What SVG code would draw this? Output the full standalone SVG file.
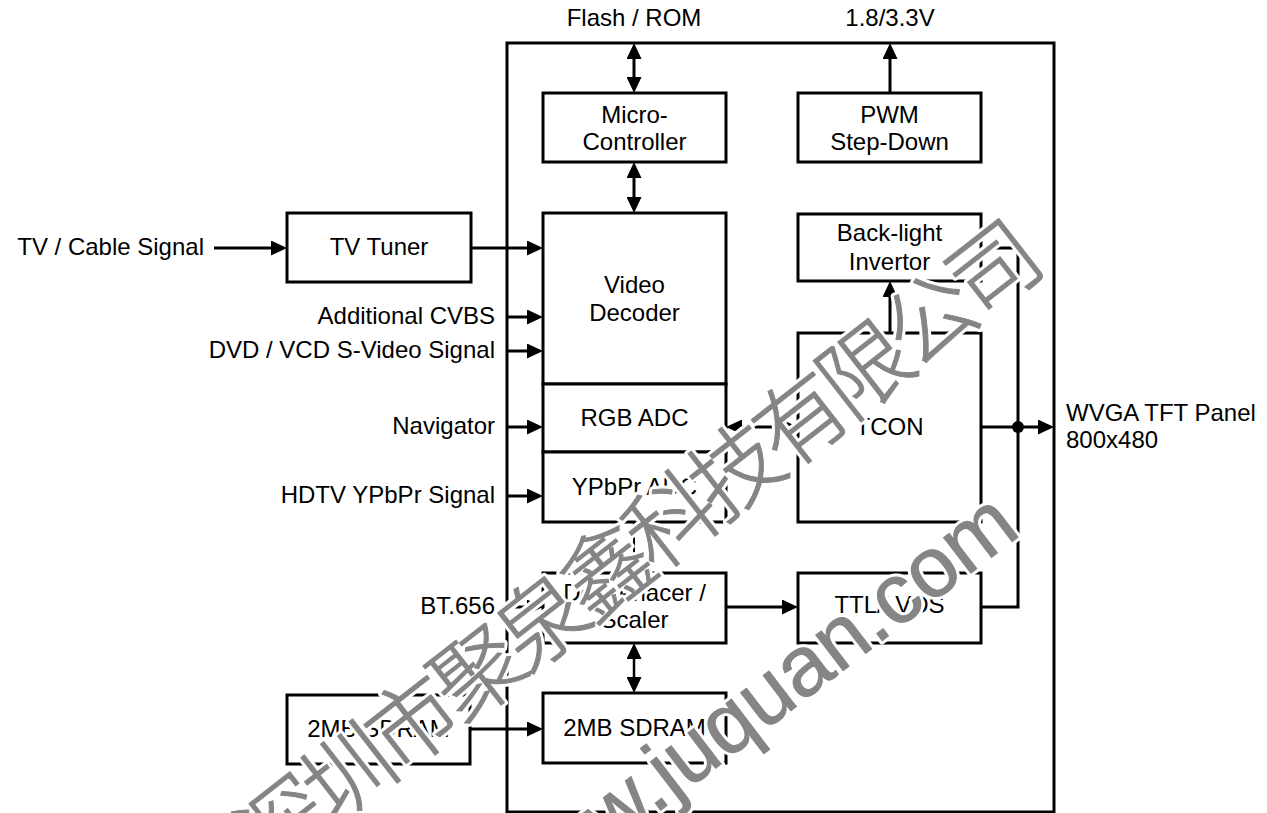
<svg xmlns="http://www.w3.org/2000/svg" width="1267" height="813" viewBox="0 0 1267 813">
<style>
  .box { fill: #fff; stroke: #000; stroke-width: 3; }
  .frame { fill: none; stroke: #000; stroke-width: 3; }
  .t { font-family: "Liberation Sans", Arial, sans-serif; font-size: 24px; fill: #000; }
  .c { text-anchor: middle; }
  .e { text-anchor: end; }
  .ln { fill: none; stroke: #000; stroke-width: 3; }
  .a1 { marker-end: url(#ah); }
  .a2 { marker-start: url(#ah); marker-end: url(#ah); }
  .wmh { fill: #fff; stroke: #fff; stroke-width: 7; stroke-linejoin: round; }
  .wm { fill: #858585; stroke: #858585; stroke-width: 1; stroke-linejoin: round; }
  .cjk { font-family: "Noto Sans CJK SC", "Noto Sans CJK JP", sans-serif; font-size: 90px; font-weight: 300; letter-spacing: -8px; text-anchor: middle; }
  .url { font-family: "Liberation Sans", Arial, sans-serif; font-size: 85px; }
</style>
<defs>
  <marker id="ah" markerUnits="userSpaceOnUse" markerWidth="16" markerHeight="15" refX="8" refY="7.5" orient="auto-start-reverse" viewBox="0 0 16 15">
    <path d="M0,0 L16,7.5 L0,15 z" fill="#000"/>
  </marker>
  <marker id="ahs" markerUnits="userSpaceOnUse" markerWidth="14" markerHeight="13" refX="7" refY="6.5" orient="auto-start-reverse" viewBox="0 0 14 13">
    <path d="M0,0 L14,6.5 L0,13 z" fill="#000"/>
  </marker>
</defs>
<rect width="1267" height="813" fill="#fff"/>

<g id="chip">
  <rect class="frame" x="507" y="43" width="547" height="769"/>
</g>

<g id="connectors">
  <line class="ln a2" x1="634" y1="51" x2="634" y2="85"/>
  <line class="ln a2" x1="634" y1="170" x2="634" y2="205"/>
  <line class="ln a1" x1="890" y1="93" x2="890" y2="51"/>
  <line class="ln a1" x1="214" y1="248" x2="279" y2="248"/>
  <line class="ln a1" x1="471" y1="248" x2="535" y2="248"/>
  <line class="ln a1" x1="507" y1="317" x2="535" y2="317"/>
  <line class="ln a1" x1="507" y1="351" x2="535" y2="351"/>
  <line class="ln a1" x1="507" y1="427" x2="535" y2="427"/>
  <line class="ln a1" x1="507" y1="496" x2="535" y2="496"/>
  <line class="ln a1" x1="507" y1="607" x2="535" y2="607"/>
  <line class="ln" style="stroke-width:2;marker-end:url(#ahs)" x1="634" y1="522" x2="634" y2="566"/>
  <line class="ln a2" style="stroke-width:2.5" x1="634" y1="651" x2="634" y2="685"/>
  <line class="ln a1" x1="470" y1="729" x2="535" y2="729"/>
  <line class="ln a1" x1="726" y1="607" x2="790" y2="607"/>
  <line class="ln a2" x1="734" y1="427" x2="790" y2="427"/>
  <line class="ln a1" x1="890" y1="333" x2="890" y2="289"/>
  <line class="ln a1" x1="981" y1="427" x2="1046" y2="427"/>
  <polyline class="ln" points="981,248 1018,248 1018,607 981,607"/>
  <circle cx="1018" cy="427" r="6" fill="#000"/>
</g>

<g id="flash-label"><text class="t c" x="634" y="26">Flash / ROM</text></g>
<g id="power-label"><text class="t c" x="890" y="26">1.8/3.3V</text></g>

<g id="micro">
  <rect class="box" x="543" y="93" width="183" height="69"/>
  <text class="t c" x="634.5" y="123">Micro-</text>
  <text class="t c" x="634.5" y="150">Controller</text>
</g>
<g id="pwm">
  <rect class="box" x="798" y="93" width="183" height="69"/>
  <text class="t c" x="889.5" y="123">PWM</text>
  <text class="t c" x="889.5" y="150">Step-Down</text>
</g>
<g id="tuner">
  <rect class="box" x="287" y="213" width="184" height="69"/>
  <text class="t c" x="379" y="255">TV Tuner</text>
</g>
<g id="video-decoder">
  <rect class="box" x="543" y="213" width="183" height="171"/>
  <text class="t c" x="634.5" y="293">Video</text>
  <text class="t c" x="634.5" y="321">Decoder</text>
</g>
<g id="rgb-adc">
  <rect class="box" x="543" y="384" width="183" height="68"/>
  <text class="t c" x="634.5" y="426">RGB ADC</text>
</g>
<g id="ypbpr-adc">
  <rect class="box" x="543" y="452" width="183" height="70"/>
  <text class="t c" x="634.5" y="495">YPbPr ADC</text>
</g>
<g id="deinterlacer">
  <rect class="box" x="543" y="573" width="183" height="70"/>
  <text class="t c" x="634.5" y="601">Deinterlacer /</text>
  <text class="t c" x="634.5" y="628">Scaler</text>
</g>
<g id="sdram-int">
  <rect class="box" x="543" y="693" width="183" height="70"/>
  <text class="t c" x="634.5" y="736">2MB SDRAM</text>
</g>
<g id="sdram-ext">
  <rect class="box" x="287" y="695" width="183" height="69"/>
  <text class="t c" x="378.5" y="737">2MB SDRAM</text>
</g>
<g id="backlight">
  <rect class="box" x="798" y="214" width="183" height="67"/>
  <text class="t c" x="889.5" y="241">Back-light</text>
  <text class="t c" x="889.5" y="270">Invertor</text>
</g>
<g id="tcon">
  <rect class="box" x="798" y="333" width="183" height="189"/>
  <text class="t c" x="889.5" y="435">TCON</text>
</g>
<g id="ttl-lvds">
  <rect class="box" x="798" y="573" width="183" height="70"/>
  <text class="t c" x="889.5" y="613">TTL/LVDS</text>
</g>

<g id="inputs">
  <text class="t e" x="204" y="255">TV / Cable Signal</text>
  <text class="t e" x="495" y="324">Additional CVBS</text>
  <text class="t e" x="495" y="358">DVD / VCD S-Video Signal</text>
  <text class="t e" x="495" y="434">Navigator</text>
  <text class="t e" x="495" y="503">HDTV YPbPr Signal</text>
  <text class="t e" x="495" y="614">BT.656</text>
</g>
<g id="panel">
  <text class="t" x="1066" y="421">WVGA TFT Panel</text>
  <text class="t" x="1066" y="448">800x480</text>
</g>

<g id="watermark">
  <text class="cjk wmh" transform="translate(656,574) rotate(-38)">深圳市聚泉鑫科技有限公司</text>
  <text class="url wmh" transform="translate(512,924) rotate(-37.4)">www.juquan.com</text>
  <text class="cjk wm" transform="translate(656,574) rotate(-38)">深圳市聚泉鑫科技有限公司</text>
  <text class="url wm" transform="translate(512,924) rotate(-37.4)">www.juquan.com</text>
</g>
</svg>
